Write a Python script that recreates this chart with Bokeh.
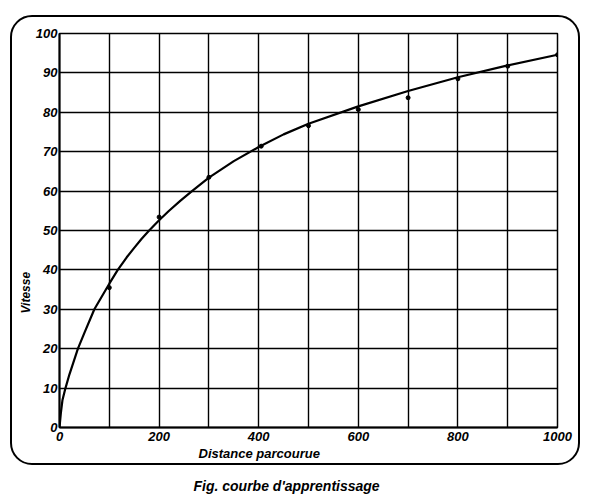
from bokeh.plotting import figure
from bokeh.models import Title, FixedTicker, Range1d, InlineStyleSheet
from bokeh.embed import file_html
from bokeh.resources import INLINE

# curve
curve_x = [0, 3, 6, 12, 20, 37, 50, 70, 100, 117, 135, 150, 165, 180, 200, 220,
           243, 266, 300, 350, 400, 450, 500, 600, 700, 800, 900, 1000]
curve_y = [0, 4, 7, 10, 13.5, 20, 24, 30, 36.5, 40, 43.2, 45.6, 47.9, 50, 52.6, 55,
           57.6, 60, 63.4, 67.6, 71.2, 74.4, 77.1, 81.5, 85.4, 88.9, 91.9, 94.6]
# measured points
pts_x = [100, 200, 300, 405, 500, 600, 700, 800, 900, 1000]
pts_y = [35.5, 53.4, 63.5, 71.4, 76.6, 80.7, 83.7, 88.5, 91.7, 94.6]

x_ticks = [0, 200, 400, 600, 800, 1000]
y_ticks = [0, 10, 20, 30, 40, 50, 60, 70, 80, 90, 100]
x_grid = [0, 100, 200, 300, 400, 500, 600, 700, 800, 900, 1000]

x_title = "Distance parcourue"
y_title = "Vitesse"
caption = "Fig.  courbe d'apprentissage"

SANS = "Liberation Sans"

frame_css = InlineStyleSheet(css="""
:host { position: relative; }
:host::after {
  content: ""; position: absolute; left: 10px; top: 15px;
  width: 570px; height: 450px; box-sizing: border-box;
  border: 2px solid black; border-radius: 22px; pointer-events: none;
}
""")

p = figure(width=600, height=498, output_backend="svg", toolbar_location=None,
           x_range=Range1d(0, 1000), y_range=Range1d(0, 100),
           min_border_left=59, min_border_right=43, min_border_top=33,
           min_border_bottom=71)
p.frame_width = 498
p.frame_height = 394
p.stylesheets = [frame_css]
p.background_fill_color = "white"
p.border_fill_color = "white"
p.outline_line_color = "black"
p.outline_line_width = 1.5

p.xaxis.ticker = FixedTicker(ticks=x_ticks)
p.yaxis.ticker = FixedTicker(ticks=y_ticks)
p.xgrid.ticker = FixedTicker(ticks=x_grid)
p.ygrid.ticker = FixedTicker(ticks=y_ticks)
for g in (p.xgrid, p.ygrid):
    g.grid_line_color = "black"
    g.grid_line_width = 1.4
    g.grid_line_alpha = 1.0

for ax in (p.xaxis, p.yaxis):
    ax.axis_line_color = "black"
    ax.axis_line_width = 2
    ax.major_tick_line_color = None
    ax.minor_tick_line_color = None
    ax.major_tick_out = 0
    ax.major_tick_in = 0
    ax.minor_tick_out = 0
    ax.minor_tick_in = 0
    ax.major_label_text_font = SANS
    ax.major_label_text_font_style = "bold italic"
    ax.major_label_text_font_size = "13px"
    ax.major_label_text_color = "black"
p.xaxis.major_label_standoff = 4
p.yaxis.major_label_standoff = 2

p.line(curve_x, curve_y, line_color="black", line_width=2.2)
p.scatter(pts_x, pts_y, size=4, color="black")

yt = Title(text=y_title, align="left", offset=114, standoff=0,
           text_font=SANS, text_font_style="bold italic",
           text_font_size="12px", text_color="black")
p.add_layout(yt, "left")
# blank outer spacer so the y title sits closer to the axis
p.add_layout(Title(text=" ", standoff=12, text_font_size="2px"), "left")
xt = Title(text=x_title, align="left", offset=139, standoff=0,
           text_font=SANS, text_font_style="bold italic",
           text_font_size="13px", text_color="black")
p.add_layout(xt, "below")
ct = Title(text=caption, align="left", offset=134, standoff=30,
           text_font=SANS, text_font_style="bold italic",
           text_font_size="14px", text_color="black")
p.add_layout(ct, "below")

open("out.html", "w").write(file_html(p, INLINE))
